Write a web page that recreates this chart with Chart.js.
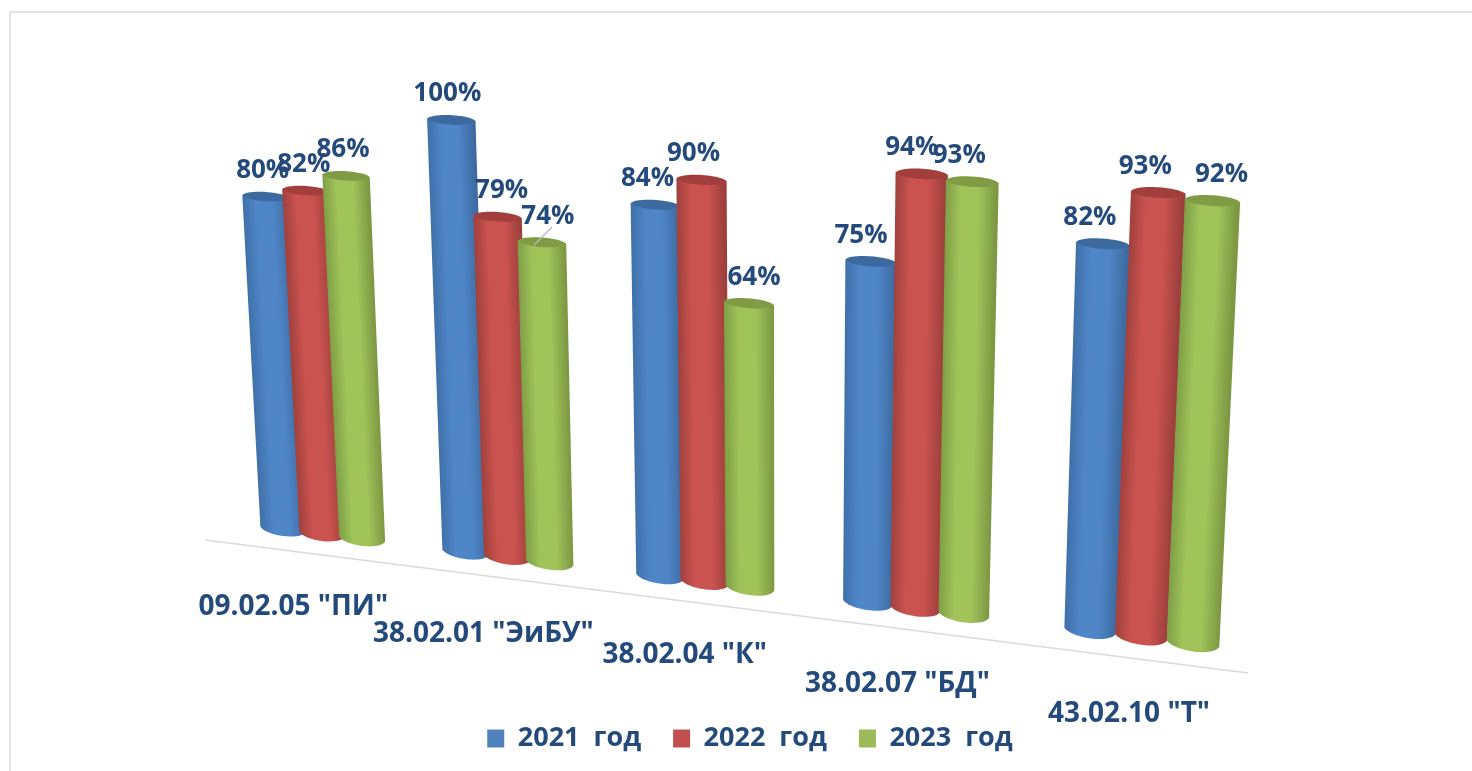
<!DOCTYPE html>
<html>
<head>
<meta charset="utf-8">
<style>
  html, body { margin: 0; padding: 0; background: #fff; overflow: hidden; }
  #wrap { position: absolute; left: 0; top: 0; width: 1472px; height: 771px; }
  #frame { position: absolute; left: 9px; top: 11px; right: -4px; bottom: -4px; border: 2px solid #e2e2e2; }
</style>
<script src="https://cdn.jsdelivr.net/npm/chart.js@4/dist/chart.umd.min.js"></script>
</head>
<body>
<div id="wrap"><div id="frame"></div><canvas id="chart" width="1472" height="771"></canvas></div>
<script>
const categories = ['09.02.05 "ПИ"', '38.02.01 "ЭиБУ"', '38.02.04 "К"', '38.02.07 "БД"', '43.02.10 "Т"'];
const seriesNames = ["2021  год", "2022  год", "2023  год"];
const values2021 = [80, 100, 84, 75, 82];
const values2022 = [82, 79, 90, 94, 93];
const values2023 = [86, 74, 64, 93, 92];

const TEXT_COLOR = "#244a7c";
const FONT = '"Open Sans", sans-serif';

// edge, centre, far edge and lid colour of each cylinder
const shades = [
  { legend: "#4f81bd", a: "#3f70a8", b: "#4f86c8", c: "#3d6a9f", lid: "#3c6a9f" },
  { legend: "#c0504d", a: "#a0403d", b: "#ca534f", c: "#9c3f3c", lid: "#a23f3d" },
  { legend: "#9bbb59", a: "#7f9f45", b: "#a0c35a", c: "#7c9842", lid: "#7f9c45" },
];

// where the plot's unit square lands on the page (the tilted view)
const corners = {
  base0: [234, 523], base1: [1260, 652],
  top0: [210, 107], top1: [1285, 164],
};

// fine placement of the percent labels and category names
const labelDx = [
  [-3, -2, -3],
  [-4, 4, 6],
  [-8, -8, 5],
  [-10, -10, -13],
  [-13, -13, 9],
];
const nameNudge = [[-7, -1], [-2, 3], [2, -1], [4, 1], [10, 3]];

function makeProjection(c) {
  const [x0, y0] = c.base0, [x1, y1] = c.base1, [x2, y2] = c.top1, [x3, y3] = c.top0;
  const dx1 = x1 - x2, dx2 = x3 - x2, sx = x0 - x1 + x2 - x3;
  const dy1 = y1 - y2, dy2 = y3 - y2, sy = y0 - y1 + y2 - y3;
  const det = dx1 * dy2 - dx2 * dy1;
  const g = (sx * dy2 - dx2 * sy) / det;
  const h = (dx1 * sy - sx * dy1) / det;
  const a = x1 - x0 + g * x1, b = x3 - x0 + h * x3;
  const d = y1 - y0 + g * y1, e = y3 - y0 + h * y3;
  return (s, t) => {
    const w = g * s + h * t + 1;
    return [(a * s + b * t + x0) / w, (d * s + e * t + y0) / w];
  };
}
const project = makeProjection(corners);

function drawCylinder(ctx, tl, tr, bl, br, shade) {
  const topW = tr[0] - tl[0], botW = br[0] - bl[0];
  const lean = (tl[0] - bl[0]) / (tl[1] - bl[1]);

  // gradient has to follow the lean of the bar
  const g = ctx.createLinearGradient(bl[0], bl[1], br[0], bl[1]);
  g.addColorStop(0, shade.a);
  g.addColorStop(0.3, shade.b);
  g.addColorStop(0.65, shade.b);
  g.addColorStop(1, shade.c);

  ctx.beginPath();
  ctx.moveTo(tl[0], tl[1]);
  ctx.lineTo(bl[0], bl[1]);
  const depth = botW * 0.2;
  ctx.bezierCurveTo(bl[0] + botW * 0.12, bl[1] + depth, br[0] - botW * 0.12, br[1] + depth, br[0], br[1]);
  ctx.lineTo(tr[0], tr[1]);
  ctx.closePath();
  ctx.save();
  ctx.transform(1, 0, lean, 1, -lean * bl[1], 0);
  ctx.fillStyle = g;
  ctx.fill();
  ctx.restore();

  const lift = topW * 0.13;
  ctx.beginPath();
  ctx.moveTo(tl[0], tl[1]);
  ctx.bezierCurveTo(tl[0] + topW * 0.1, tl[1] - lift, tr[0] - topW * 0.1, tr[1] - lift, tr[0], tr[1]);
  ctx.bezierCurveTo(tr[0] - topW * 0.1, tr[1] + lift, tl[0] + topW * 0.1, tl[1] + lift, tl[0], tl[1]);
  ctx.fillStyle = shade.lid;
  ctx.fill();
}

const cylinders = {
  id: "cylinders",
  beforeDatasetsDraw(chart) {
    const { ctx, chartArea: area, scales } = chart;
    const toS = (x) => (x - area.left) / area.width;
    const toT = (y) => (area.bottom - y) / area.height;

    ctx.save();
    // floor line
    ctx.strokeStyle = "#dcd9d6";
    ctx.lineWidth = 1.5;
    ctx.beginPath();
    ctx.moveTo(205, 540);
    ctx.lineTo(1248, 673);
    ctx.stroke();

    const labels = [];
    chart.data.datasets.forEach((ds, i) => {
      chart.getDatasetMeta(i).data.forEach((el, k) => {
        const half = el.width / 2;
        const t = toT(el.y), t0 = toT(el.base);
        // left bars overlap more than the scale alone would give
        const pad = 3.5 * (1 - toS(el.x));
        const tl = project(toS(el.x - half), t); tl[0] -= pad;
        const tr = project(toS(el.x + half), t); tr[0] += pad;
        const bl = project(toS(el.x - half), t0); bl[0] -= pad;
        const br = project(toS(el.x + half), t0); br[0] += pad;
        drawCylinder(ctx, tl, tr, bl, br, shades[i]);
        labels.push({
          text: ds.data[k] + "%",
          x: (tl[0] + tr[0]) / 2 + labelDx[k][i],
          y: (tl[1] + tr[1]) / 2 - 26,
        });
      });
    });

    // leader line of the 74% label
    ctx.strokeStyle = "#b8b8b8";
    ctx.lineWidth = 1.2;
    ctx.beginPath();
    ctx.moveTo(534, 245);
    ctx.lineTo(552, 227);
    ctx.stroke();

    ctx.fillStyle = TEXT_COLOR;
    ctx.textAlign = "center";
    ctx.textBaseline = "middle";
    ctx.font = "700 26px " + FONT;
    labels.forEach((l) => ctx.fillText(l.text, l.x, l.y));

    // category names follow the floor line
    ctx.font = "700 28px " + FONT;
    scales.x.getLabels().forEach((name, k) => {
      const p = project(toS(scales.x.getPixelForTick(k)), 0);
      ctx.fillText(name, p[0] - 22 + nameNudge[k][0], p[1] + 74 + nameNudge[k][1]);
    });
    ctx.restore();
    return false;
  },
};

new Chart(document.getElementById("chart"), {
  type: "bar",
  plugins: [cylinders],
  data: {
    labels: categories,
    datasets: [values2021, values2022, values2023].map((vals, i) => ({
      label: seriesNames[i],
      data: vals,
      backgroundColor: shades[i].legend,
      categoryPercentage: 0.66,
      barPercentage: 1,
    })),
  },
  options: {
    responsive: false,
    animation: false,
    layout: { padding: { left: 28, bottom: 9 } },
    scales: {
      x: { display: false },
      y: { display: false, min: 0, max: 100 },
    },
    plugins: {
      tooltip: { enabled: false },
      legend: {
        position: "bottom",
        labels: {
          color: TEXT_COLOR,
          boxWidth: 17,
          boxHeight: 18,
          padding: 32,
          font: { family: FONT, size: 27, weight: "700" },
        },
      },
    },
  },
});
</script>
</body>
</html>
